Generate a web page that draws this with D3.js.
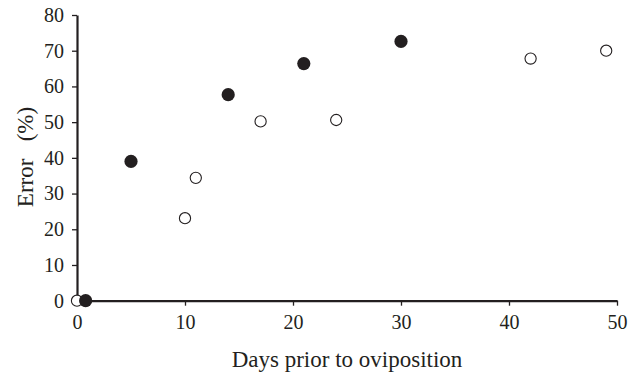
<!DOCTYPE html>
<html><head><meta charset="utf-8">
<script src="https://cdn.jsdelivr.net/npm/d3@7"></script>
<style>body{margin:0;background:#fff}svg{display:block}</style>
</head><body>
<svg id="c" width="639" height="375"></svg>
<script>
const filledX = [0.8, 5, 14, 21, 30];
const filledY = [0, 39, 57.7, 66.4, 72.6];
const openX = [0, 10, 11, 17, 24, 42, 49];
const openY = [0, 23.1, 34.4, 50.2, 50.6, 67.8, 70.0];
const xTicks = [0, 10, 20, 30, 40, 50];
const yTicks = [0, 10, 20, 30, 40, 50, 60, 70, 80];
const xTitle = "Days prior to oviposition";
const yTitle = "Error\u00a0\u00a0\u00a0(%)";

const svg = d3.select("#c");
const ink = "#231f20";
const font = "'Liberation Serif','Times New Roman',serif";
const x = d3.scaleLinear().domain([0, 50]).range([77, 617]);
const y = d3.scaleLinear().domain([0, 80]).range([300.7, 15]);

const xa = svg.append("g").attr("transform", `translate(0,${y(0)})`)
  .call(d3.axisBottom(x).tickValues(xTicks).tickSize(5).tickPadding(9).tickSizeOuter(0));
const ya = svg.append("g").attr("transform", `translate(${x(0)},0)`)
  .call(d3.axisLeft(y).tickValues(yTicks).tickSize(5).tickPadding(8).tickSizeOuter(0));
[xa, ya].forEach(a => {
  a.select(".domain").attr("stroke", ink).attr("stroke-width", 2.2);
  a.selectAll(".tick line").attr("stroke", ink).attr("stroke-width", 1.3);
  a.selectAll(".tick text").attr("fill", ink).style("font-family", font).style("font-size", "20px");
});

svg.append("g").selectAll("circle").data(openX).join("circle")
  .attr("cx", (d) => x(d)).attr("cy", (d, i) => y(openY[i])).attr("r", 5.6)
  .attr("fill", "#fff").attr("stroke", ink).attr("stroke-width", 1.1);
svg.append("g").selectAll("circle").data(filledX).join("circle")
  .attr("cx", (d) => x(d)).attr("cy", (d, i) => y(filledY[i])).attr("r", 6.6)
  .attr("fill", ink);

svg.append("text").attr("x", (x(0) + x(50)) / 2).attr("y", 367).attr("text-anchor", "middle").attr("fill", ink)
  .style("font-family", font).style("font-size", "23px").text(xTitle);
svg.append("text").attr("transform", "translate(33,157) rotate(-90)")
  .attr("text-anchor", "middle").attr("fill", ink)
  .style("font-family", font).style("font-size", "23px").text(yTitle);
</script>
</body></html>
